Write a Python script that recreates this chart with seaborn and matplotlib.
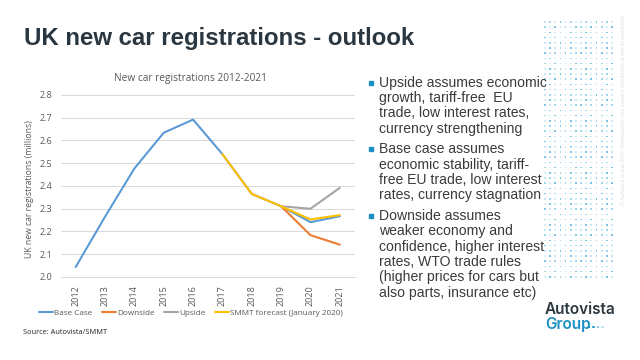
import matplotlib.pyplot as plt
import numpy as np
import pandas as pd
import seaborn as sns

# data
years = [2012, 2013, 2014, 2015, 2016, 2017, 2018, 2019, 2020, 2021]
base_case = [2.044, 2.265, 2.477, 2.634, 2.692, 2.540, 2.365, 2.311, 2.241, 2.267]
downside_years = [2019, 2020, 2021]
downside = [2.311, 2.184, 2.142]
upside_years = [2019, 2020, 2021]
upside = [2.311, 2.300, 2.392]
smmt_years = [2017, 2018, 2019, 2020, 2021]
smmt = [2.540, 2.365, 2.311, 2.253, 2.272]

series_names = ["Base Case", "Downside", "Upside", "SMMT forecast (January 2020)"]
series_colors = ["#5b9bd5", "#ed7d31", "#a5a5a5", "#ffc000"]

bullets = [
    ["Upside assumes economic", "growth, tariff-free  EU", "trade, low interest rates,", "currency strengthening"],
    ["Base case assumes", "economic stability, tariff-", "free EU trade, low interest", "rates, currency stagnation"],
    ["Downside assumes", "weaker economy and", "confidence, higher interest", "rates, WTO trade rules",
     "(higher prices for cars but", "also parts, insurance etc)"],
]

df = pd.concat([
    pd.DataFrame({"year": years, "value": base_case, "series": series_names[0]}),
    pd.DataFrame({"year": downside_years, "value": downside, "series": series_names[1]}),
    pd.DataFrame({"year": upside_years, "value": upside, "series": series_names[2]}),
    pd.DataFrame({"year": smmt_years, "value": smmt, "series": series_names[3]}),
])

sns.set_style("white")
plt.rcParams["font.family"] = ["Open Sans", "DejaVu Sans"]

W, H = 640, 360
fig = plt.figure(figsize=(6.4, 3.6), dpi=100)

def fx(px):
    return px / W

def fy(py):
    return 1 - py / H

# main title
fig.text(fx(24), fy(38), "UK new car registrations - outlook", fontsize=17.3, weight="bold",
         family="Liberation Sans", color="#2b3740", va="center", ha="left")

# chart
ax = fig.add_axes([fx(61), fy(277), fx(354.5 - 61), (277 - 95) / H])
sns.lineplot(data=df, x="year", y="value", hue="series", hue_order=series_names,
             palette=series_colors, linewidth=1.5, ax=ax, legend=False)
ax.set_xlim(2011.5, 2021.5)
ax.set_ylim(2.0, 2.8)
ax.set_yticks(np.arange(2.0, 2.81, 0.1))
ax.set_yticklabels([f"{v:.1f}" for v in np.arange(2.0, 2.81, 0.1)])
ax.set_xticks(years)
ax.set_xticklabels([str(y) for y in years], rotation=90)
ax.tick_params(axis="both", labelsize=6.5, colors="#595959", length=0, pad=6)
ax.grid(axis="y", color="#d9d9d9", linewidth=0.7)
for s in ["left", "right", "top"]:
    ax.spines[s].set_visible(False)
ax.spines["bottom"].set_color("#d9d9d9")
ax.spines["bottom"].set_linewidth(0.7)
ax.set_xlabel("")
ax.set_ylabel("")

fig.text(fx(190), fy(79), "New car registrations 2012-2021", fontsize=7.3, color="#595959",
         ha="center", va="center")
fig.text(fx(30), fy(189), "UK new car registrations (millions)", fontsize=6.2, color="#595959",
         rotation=90, ha="center", va="center")

handles = [plt.Line2D([], [], color=c, linewidth=1.5) for c in series_colors]
fig.legend(handles, series_names, loc="center", bbox_to_anchor=(fx(191), fy(313)), ncol=4,
           frameon=False, fontsize=5.9, labelcolor="#595959", handlelength=1.7,
           handletextpad=0.2, columnspacing=1.1)

fig.text(fx(23), fy(333), "Source: Autovista/SMMT", fontsize=5.3, color="#222222",
         ha="left", va="center")

# bullet text
y = 82.7
for para in bullets:
    fig.patches.append(plt.Rectangle((fx(368.5), fy(y + 2)), fx(4), 4 / H, transform=fig.transFigure,
                                     color="#1a8fc4", figure=fig))
    for line in para:
        fig.text(fx(379), fy(y), line, fontsize=10.1, family="Liberation Sans", color="#3b3b3b",
                 ha="left", va="center")
        y += 15.35
    y += 5.3

# dotted decoration
deco = fig.add_axes([0, 0, 1, 1], zorder=-1)
deco.set_xlim(0, W)
deco.set_ylim(H, 0)
deco.axis("off")
cols = np.arange(14)
rows = np.arange(50)
gx, gy = np.meshgrid(545 + cols * 5.15, 22 + rows * 5.2)
shade = (gx.astype(int) * 7 + gy.astype(int) * 3) % 4
palette = np.array(["#9fd8ee", "#c7e6f3", "#7cc3e6", "#d9eef7"])
deco.scatter(gx.ravel(), gy.ravel(), s=1.6, c=palette[shade.ravel()], linewidths=0, marker="s")
fig.text(fx(623), fy(110), "© Autovista Group 2019. Reproduction and onward distribution is strictly prohibited",
         rotation=90, fontsize=3.5, color="#dcdcdc", ha="center", va="center")

# logo
fig.text(fx(545), fy(310), "Autovista", fontsize=11, family="Inter", weight="semibold", color="#2b3740",
         ha="left", va="center")
fig.text(fx(545), fy(324), "Group", fontsize=11, family="Inter", weight="semibold", color="#1a8fc4",
         ha="left", va="center")
deco.scatter([589, 593.5, 598, 602.5], [327, 327, 327, 327], s=3, marker="s", linewidths=0,
             c=["#1a8fc4", "#4aaad6", "#8ccbe8", "#c4e4f3"])

fig.savefig("out.png", dpi=100)
